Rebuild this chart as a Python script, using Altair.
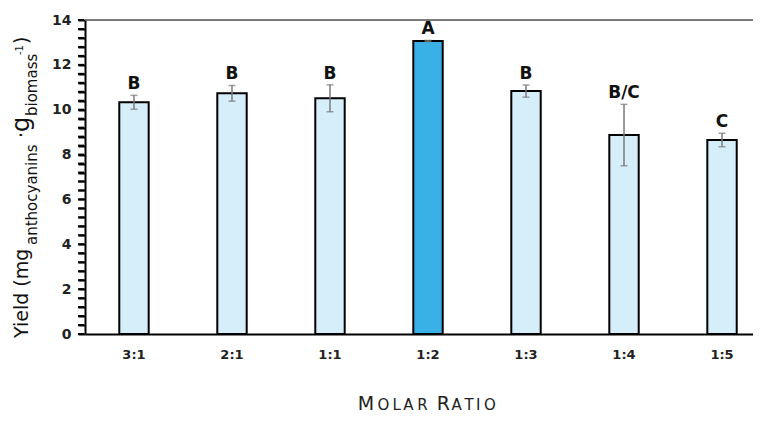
import altair as alt
import pandas as pd

# ---- data ----
ratios = ["3:1", "2:1", "1:1", "1:2", "1:3", "1:4", "1:5"]
yields = [10.33, 10.73, 10.51, 13.06, 10.83, 8.87, 8.65]
errors = [0.31, 0.35, 0.60, 0.03, 0.27, 1.37, 0.30]
letters = ["B", "B", "B", "A", "B", "B/C", "C"]
y_ticks = [round(i * 0.4, 1) for i in range(36)]

W, H = 668, 314
FONT = "DejaVu Sans"

df = pd.DataFrame({"ratio": ratios, "value": yields, "err": errors, "letter": letters})
df["lo"] = df["value"] - df["err"]
df["hi"] = df["value"] + df["err"]
ticks_df = pd.DataFrame({"t": y_ticks})

x_scale = alt.Scale(paddingInner=0.70, paddingOuter=0.258, align=0.678)
x_axis = alt.Axis(title=None, labelAngle=0, ticks=False, domainColor="black",
                  domainWidth=2, labelFont=FONT, labelFontSize=13,
                  labelFontWeight="bold", labelColor="#222", labelPadding=14)
y_scale = alt.Scale(domain=[0, 14], nice=False, zero=True)
y_axis = alt.Axis(title=None, values=y_ticks,
                  labelExpr="(abs(datum.value % 2) < 0.01) ? format(datum.value, 'd') : ''",
                  labelOverlap=False, ticks=True, tickSize=7, tickColor="black", tickWidth=2,
                  tickOpacity=1, domainColor="black", domainWidth=2, grid=False,
                  labelFont=FONT, labelFontSize=14, labelFontWeight="bold",
                  labelColor="#222", labelPadding=7)


def X():
    return alt.X("ratio:N", sort=ratios, scale=x_scale, axis=x_axis)


def Y(field):
    return alt.Y(field, type="quantitative", scale=y_scale, axis=y_axis)


base = alt.Chart(df)

bars = base.mark_bar(stroke="black", strokeWidth=2).encode(
    x=X(), y=Y("value"),
    color=alt.condition(alt.datum.ratio == "1:2", alt.value("#39b1e6"), alt.value("#d6eef9")),
)
err_rule = base.mark_rule(color="#7a7a7a", strokeWidth=1.5).encode(
    x=X(), y=Y("lo"), y2="hi:Q")
cap_hi = base.mark_tick(color="#7a7a7a", size=7, thickness=1.5).encode(x=X(), y=Y("hi"))
cap_lo = base.mark_tick(color="#7a7a7a", size=7, thickness=1.5).encode(x=X(), y=Y("lo"))
labels = base.mark_text(font=FONT, fontSize=17, fontWeight="bold", color="#111",
                        baseline="alphabetic", dy=-6).encode(
    x=X(), y=Y("hi"), text="letter:N")

# small outward tick marks on the y axis (every 0.4), placed through the y scale
minor_ticks = alt.Chart(ticks_df).mark_rule(color="black", strokeWidth=2).encode(
    y=Y("t"), x=alt.value(-7), x2=alt.value(-1))

one = alt.Chart(pd.DataFrame({"k": [0]}))
top_line = one.mark_rule(color="#555", strokeWidth=1.5).encode(
    y=alt.value(0), x=alt.value(0), x2=alt.value(W))

# y-axis title with subscripts / superscript (rotated pieces)
ytitle_pieces = [
    ("Yield (mg", 19, -57, 318),
    ("anthocyanins", 15, -48, 225),
    ("\u00b7", 19, -57, 118),
    ("g", 24, -56, 112),
    ("biomass", 15, -48, 96),
    ("-1", 10, -62, 35),
    (")", 19, -57, 24),
]
ytitle = [
    one.mark_text(text=t, font=FONT, fontSize=s, angle=270, align="left",
                  baseline="alphabetic", color="#111").encode(x=alt.value(px), y=alt.value(py))
    for t, s, px, py in ytitle_pieces
]

# x-axis title in small caps, letter by letter
xtitle_letters = ["M", "O", "L", "A", "R", "R", "A", "T", "I", "O"]
xtitle_sizes = [19, 15, 15, 15, 15, 19, 15, 15, 15, 15]
xtitle_x = [281, 298.3, 311.7, 323.3, 337.5, 358.3, 371.7, 384.2, 393.3, 405]
xtitle = [
    one.mark_text(text=c, font=FONT, fontSize=s, align="center",
                  baseline="alphabetic", color="#222").encode(x=alt.value(px), y=alt.value(390))
    for c, s, px in zip(xtitle_letters, xtitle_sizes, xtitle_x)
]

chart = alt.layer(bars, err_rule, cap_hi, cap_lo, labels, top_line, minor_ticks,
                  *ytitle, *xtitle).properties(
    width=W, height=H,
    autosize=alt.AutoSizeParams(type="none"),
    padding={"left": 77, "top": 12, "right": 0, "bottom": 81},
).configure_view(stroke=None).configure(background="white")

chart.save("out.html", embed_options={"renderer": "svg", "actions": False})
